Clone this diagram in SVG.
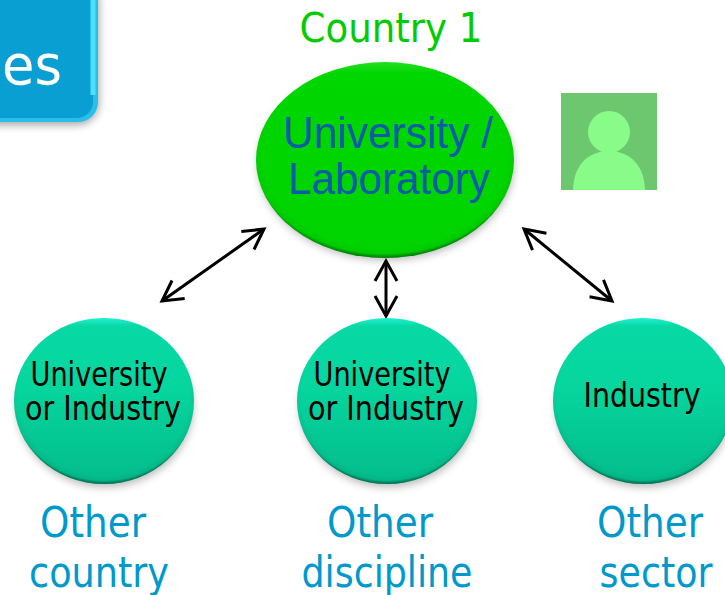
<svg xmlns="http://www.w3.org/2000/svg" width="725" height="595" viewBox="0 0 725 595">
<style>
.t{font-family:"DejaVu Sans","Liberation Sans",sans-serif;text-anchor:middle}
.a{font-family:"Liberation Sans",Arial,sans-serif;text-anchor:middle;font-size:44px;fill:#0a5ca8}
.n{font-size:33px;fill:#000}
.l{font-size:42px;fill:#0099cc}
.c{fill:none;stroke:#000;stroke-width:3;marker-start:url(#a);marker-end:url(#a)}
</style>
<defs>
<marker id="a" viewBox="-12 -8 14 16" markerUnits="userSpaceOnUse" markerWidth="28" markerHeight="32" refX="0" refY="0" orient="auto-start-reverse">
<path d="M-10-5.500 0 0-10 5.500" fill="none" stroke="#000" stroke-width="1.500"/>
</marker>
<radialGradient id="e" cx=".5" cy=".47" r=".53"><stop offset=".9" stop-color="#000" stop-opacity="0"/><stop offset=".96" stop-color="#000" stop-opacity=".05"/><stop offset="1" stop-color="#003020" stop-opacity=".55"/></radialGradient>
<linearGradient id="g2" x1="0" y1="0" x2="0" y2="1"><stop offset="0" stop-color="#20f0d0"/><stop offset=".05" stop-color="#08d8a4"/><stop offset=".4" stop-color="#06d69e"/><stop offset="1" stop-color="#04bc8b"/></linearGradient>
<linearGradient id="g3" x1="0" y1="0" x2="0" y2="1"><stop offset="0" stop-color="#20e020"/><stop offset=".06" stop-color="#00d600"/><stop offset="1" stop-color="#00d400"/></linearGradient>
<filter id="s" x="-20%" y="-20%" width="140%" height="140%"><feGaussianBlur stdDeviation="4"/></filter>
</defs>

<g id="banner">
<rect x="-30" y="-20" width="129" height="145" rx="22" fill="#000" opacity=".35" filter="url(#s)"/>
<rect x="-30" y="-20" width="128" height="142" rx="20" fill="#29bfe8"/>
<rect x="-30" y="-20" width="123" height="138" rx="16" fill="#0a9fd2"/>
<path d="M93-5V95" stroke="#50e0ff" stroke-width="5"/>
<text class="t" x="32" y="84" font-size="56" fill="#fff" textLength="60" lengthAdjust="spacingAndGlyphs">es</text>
</g>

<g id="country-label"><text class="t" x="391" y="42" font-size="41" fill="#00cc00" textLength="183" lengthAdjust="spacingAndGlyphs">Country 1</text></g>

<g id="university-laboratory">
<ellipse cx="386" cy="164" rx="128" ry="96" fill="#000" opacity=".28" filter="url(#s)"/>
<ellipse cx="385" cy="160" rx="129" ry="98" fill="url(#g3)"/>
<ellipse cx="385" cy="160" rx="129" ry="98" fill="url(#e)"/>
<text class="a" x="388" y="148" textLength="210" lengthAdjust="spacingAndGlyphs">University /</text>
<text class="a" x="389" y="194" textLength="202" lengthAdjust="spacingAndGlyphs">Laboratory</text>
</g>

<g id="person">
<rect x="561" y="93" width="96" height="97" fill="#6cc76f"/>
<circle cx="609" cy="132" r="21" fill="#88fb88"/>
<path d="M573 190C574 160 593 151 609 151S644 160 645 190Z" fill="#88fb88"/>
</g>

<g id="connectors">
<path class="c" d="M162 301 264 229"/>
<path class="c" d="M386 261V316"/>
<path class="c" d="M524 229 612 301"/>
</g>

<g id="node-left">
<ellipse cx="105" cy="407" rx="88" ry="80" fill="#000" opacity=".28" filter="url(#s)"/>
<ellipse cx="104" cy="401" rx="90" ry="83" fill="url(#g2)"/>
<ellipse cx="104" cy="401" rx="90" ry="83" fill="url(#e)"/>
<text class="t n" x="99" y="386" textLength="137" lengthAdjust="spacingAndGlyphs">University</text>
<text class="t n" x="103" y="420" textLength="156" lengthAdjust="spacingAndGlyphs">or Industry</text>
</g>
<g id="node-middle">
<ellipse cx="388" cy="407" rx="88" ry="80" fill="#000" opacity=".28" filter="url(#s)"/>
<ellipse cx="387" cy="401" rx="90" ry="83" fill="url(#g2)"/>
<ellipse cx="387" cy="401" rx="90" ry="83" fill="url(#e)"/>
<text class="t n" x="382" y="386" textLength="137" lengthAdjust="spacingAndGlyphs">University</text>
<text class="t n" x="386" y="420" textLength="156" lengthAdjust="spacingAndGlyphs">or Industry</text>
</g>
<g id="node-right">
<ellipse cx="644" cy="407" rx="88" ry="80" fill="#000" opacity=".28" filter="url(#s)"/>
<ellipse cx="643" cy="401" rx="90" ry="83" fill="url(#g2)"/>
<ellipse cx="643" cy="401" rx="90" ry="83" fill="url(#e)"/>
<text class="t n" x="642" y="407" textLength="117" lengthAdjust="spacingAndGlyphs">Industry</text>
</g>

<g id="labels">
<text class="t l" x="93" y="537" textLength="106" lengthAdjust="spacingAndGlyphs">Other</text>
<text class="t l" x="99" y="587" textLength="140" lengthAdjust="spacingAndGlyphs">country</text>
<text class="t l" x="380" y="537" textLength="106" lengthAdjust="spacingAndGlyphs">Other</text>
<text class="t l" x="387" y="587" textLength="171" lengthAdjust="spacingAndGlyphs">discipline</text>
<text class="t l" x="650" y="537" textLength="106" lengthAdjust="spacingAndGlyphs">Other</text>
<text class="t l" x="656" y="587" textLength="113" lengthAdjust="spacingAndGlyphs">sector</text>
</g>
</svg>
